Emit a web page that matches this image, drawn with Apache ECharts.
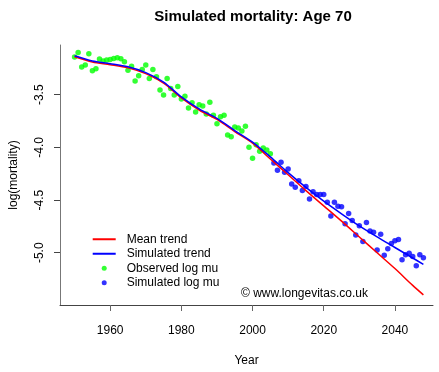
<!DOCTYPE html>
<html>
<head>
<meta charset="utf-8">
<script src="https://cdn.jsdelivr.net/npm/echarts@6/dist/echarts.min.js"></script>
<style>html,body{margin:0;padding:0;background:#fff}#c{width:439px;height:372px}</style>
</head>
<body>
<div id="c"></div>
<script>
// Observed log mu, 1950-2005
var obsYears = [];
for (var y = 1950; y <= 2005; y++) obsYears.push(y);
var obsValues = [
  -3.143, -3.100, -3.236, -3.217, -3.112, -3.273, -3.254, -3.161, -3.180, -3.170,
  -3.165, -3.155, -3.150, -3.158, -3.186, -3.267, -3.230, -3.370, -3.320, -3.260,
  -3.217, -3.347, -3.260, -3.329, -3.455, -3.503, -3.345, -3.440, -3.503, -3.422,
  -3.540, -3.515, -3.627, -3.577, -3.664, -3.596, -3.608, -3.683, -3.571, -3.696,
  -3.776, -3.708, -3.696, -3.882, -3.900, -3.807, -3.815, -3.845, -3.800, -3.999,
  -4.102, -3.975, -4.036, -4.006, -4.024, -4.061
];
// Simulated log mu, 2006-2048
var simYears = [];
for (var y2 = 2006; y2 <= 2048; y2++) simYears.push(y2);
var simValues = [
  -4.148, -4.217, -4.142, -4.236, -4.204, -4.347, -4.378, -4.316, -4.409, -4.372,
  -4.490, -4.422, -4.446, -4.446, -4.446, -4.520, -4.651, -4.520, -4.558, -4.564,
  -4.725, -4.627, -4.695, -4.831, -4.744, -4.893, -4.713, -4.794, -4.806, -4.974,
  -4.825, -5.023, -4.962, -4.912, -4.887, -4.874, -5.067, -5.018, -5.005, -5.036,
  -5.123, -5.018, -5.048
];
// Trend lines
var trendYears = [1950,1955,1960,1965,1970,1975,1980,1985,1990,1995,2000,2005,2010,2015,2020,2025,2030,2035,2040,2045,2048];
var meanTrend = [-3.14,-3.19,-3.215,-3.245,-3.30,-3.39,-3.53,-3.645,-3.735,-3.85,-3.96,-4.11,-4.26,-4.41,-4.555,-4.70,-4.85,-5.00,-5.15,-5.31,-5.40];
var simTrend  = [-3.13,-3.18,-3.205,-3.235,-3.29,-3.38,-3.52,-3.635,-3.725,-3.84,-3.95,-4.09,-4.24,-4.38,-4.51,-4.63,-4.745,-4.85,-4.95,-5.05,-5.11];
var xTicks = [1960,1980,2000,2020,2040];
var yTicks = [-5.0,-4.5,-4.0,-3.5];

function pairs(xs, ys){ return xs.map(function(x,i){ return [x, ys[i]]; }); }

var FONT = 'Liberation Sans, Arial, sans-serif';
var chart = echarts.init(document.getElementById('c'), null, {renderer:'canvas'});
chart.setOption({
  animation: false,
  backgroundColor: '#fff',
  textStyle: {fontFamily: FONT},
  title: {
    text: 'Simulated mortality: Age 70',
    left: 248, top: 4, textAlign: 'center',
    textStyle: {fontFamily: FONT, fontSize: 15, fontWeight: 'bold', color: '#000'}
  },
  grid: {left: 56.5, right: 6, top: 45, bottom: 62, containLabel: false},
  xAxis: {
    type: 'value', min: 1945.9, max: 2050.7,
    name: 'Year', nameLocation: 'middle', nameGap: 50,
    nameTextStyle: {fontFamily: FONT, fontSize: 12, color: '#000'},
    splitLine: {show: false},
    axisLine: {show: true, onZero: false, lineStyle: {color: '#444', width: 1}},
    axisTick: {show: true, inside: false, length: 6, customValues: xTicks, lineStyle: {color: '#666'}},
    axisLabel: {customValues: xTicks, margin: 20, fontFamily: FONT, fontSize: 12, color: '#000',
      formatter: function(v){ return String(v); }}
  },
  yAxis: {
    type: 'value', min: -5.496, max: -3.028,
    name: 'log(mortality)', nameLocation: 'middle', nameGap: 40,
    nameTextStyle: {fontFamily: FONT, fontSize: 12, color: '#000'},
    splitLine: {show: false},
    axisLine: {show: true, onZero: false, lineStyle: {color: '#777', width: 1}},
    axisTick: {show: true, inside: false, length: 6, customValues: yTicks, lineStyle: {color: '#444'}},
    axisLabel: {customValues: yTicks, rotate: 90, margin: 14, fontFamily: FONT, fontSize: 12, color: '#000',
      formatter: function(v){ return v.toFixed(1); }}
  },
  legend: {
    orient: 'vertical', left: 86.7, top: 227, itemGap: 0,
    itemWidth: 23, itemHeight: 5,
    textStyle: {fontFamily: FONT, fontSize: 12, color: '#000', lineHeight: 14.5, padding: [0,0,0,6]},
    data: [
      {name: 'Mean trend', itemStyle: {opacity: 0}},
      {name: 'Simulated trend', itemStyle: {opacity: 0}},
      {name: 'Observed log mu', icon: 'circle'},
      {name: 'Simulated log mu', icon: 'circle'}
    ]
  },
  graphic: [{
    type: 'text', left: 241, top: 288,
    style: {text: '\u00A9 www.longevitas.co.uk', fontFamily: FONT, fontSize: 12, fill: '#000'}
  }],
  series: [
    {name: 'Observed log mu', type: 'scatter', data: pairs(obsYears, obsValues),
      symbol: 'circle', symbolSize: 5.5, itemStyle: {color: '#00FF00'}, z: 2},
    {name: 'Simulated log mu', type: 'scatter', data: pairs(simYears, simValues),
      symbol: 'circle', symbolSize: 5.5, itemStyle: {color: '#0000FF'}, z: 2},
    {name: 'Mean trend', type: 'line', data: pairs(trendYears, meanTrend), smooth: 0.3,
      symbol: 'none', lineStyle: {color: '#FF0000', width: 1.5}, itemStyle: {color: '#FF0000'}, z: 3},
    {name: 'Simulated trend', type: 'line', data: pairs(trendYears, simTrend), smooth: 0.3,
      symbol: 'none', lineStyle: {color: '#0000FF', width: 1.5}, itemStyle: {color: '#0000FF'}, z: 4}
  ]
});
</script>
</body>
</html>
